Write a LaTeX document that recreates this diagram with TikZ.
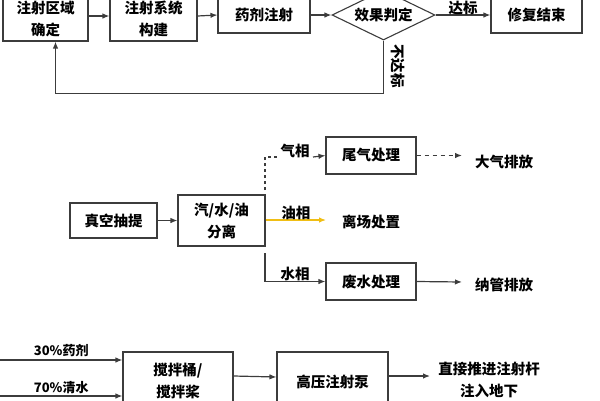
\documentclass[tikz,border=0pt]{standalone}
\usepackage{fontspec}
\setmainfont{Noto Sans CJK SC}
\usepackage{xcolor}
\usetikzlibrary{shapes.geometric, arrows.meta}
\definecolor{oilyellow}{RGB}{240,190,20}
\definecolor{linegray}{RGB}{60,60,60}
\tikzset{
        box/.style={draw=linegray, line width=1.1pt, align=center, inner sep=0pt},
        txt/.style={align=center, inner sep=1pt},
        flow/.style={-{Latex[length=7pt, width=5.5pt]}, line width=1.2pt, draw=linegray}
}

\begin{document}
\begin{tikzpicture}[x=1pt, y=-1pt, font=\fontsize{14.5}{22}\selectfont\bfseries]
        \useasboundingbox (0,0) rectangle (600,400);
        \node[box, minimum width=85pt, minimum height=44pt] (zone) at (45.5,19) {注射区域\\确定};
        \node[box, minimum width=87pt, minimum height=44pt] (build) at (153.5,19) {注射系统\\构建};
        \node[box, minimum width=92pt, minimum height=36pt] (inject) at (264,15) {药剂注射};
        \node[draw=linegray, line width=1.1pt, diamond, minimum width=103pt, minimum height=50pt, inner sep=0pt] (judge) at (383.5,15) {};
        \node[txt] at (judge) {效果判定};
        \node[box, minimum width=91pt, minimum height=36pt] (finish) at (536.5,15) {修复结束};
        \draw[flow] ([yshift=3pt]zone.east) -- ([yshift=3pt]build.west);
        \draw[flow] ([yshift=3pt]build.east) -- (inject.west);
        \draw[flow] (inject.east) -- (judge.west);
        \draw[flow] (judge.east) -- node[txt, above=-2pt] {达标} (finish.west);
        \draw[flow] (judge.south) -- ++(0,53) -| ([xshift=10pt]zone.south);
        \node[txt, rotate=-90] at (398,66) {不达标};

        \node[box, minimum width=87pt, minimum height=35pt] (vac) at (113.5,220.5) {真空抽提};
        \node[box, minimum width=87pt, minimum height=51pt] (sep) at (221.5,220.5) {汽/水/油\\分离};
        \draw[flow] (vac.east) -- (sep.west);
        \node[box, minimum width=90pt, minimum height=37pt] (tail) at (371,155.5) {尾气处理};
        \coordinate (g1) at (265,190);
        \coordinate (g2) at (277,157);
        \coordinate (g3) at (313,157);
        \draw[line width=1.2pt, draw=linegray, dash pattern=on 3pt off 3pt] (g1) |- (g2);
        \node[txt] at (295,151) {气相};
        \draw[flow] (g3) -- (tail.west);
        \coordinate (airend) at (462,155.5);
        \draw[flow, dash pattern=on 4pt off 4pt] (tail.east) -- (airend);
        \node[txt] at (504,162) {大气排放};
        \coordinate (oilend) at (326,220);
        \draw[-{Latex[length=7pt, width=5.5pt]}, line width=1.2pt, draw=oilyellow] (sep.east |- oilend) -- node[txt, above=-1pt] {油相} (oilend);
        \node[txt] at (371,222) {离场处置};
        \node[box, minimum width=90pt, minimum height=37pt] (waste) at (371,281.5) {废水处理};
        \coordinate (w1) at (265,253);
        \draw[flow] (w1) |- node[txt, pos=0.75, above=-1pt] {水相} (waste.west);
        \coordinate (pipeend) at (462,282);
        \draw[flow] (waste.east) -- (pipeend);
        \node[txt] at (504,285) {纳管排放};

        \node[box, minimum width=110pt, minimum height=58pt] (mix) at (178,381) {搅拌桶/\\搅拌桨};
        \node[box, minimum width=111pt, minimum height=60pt] (pump) at (332.5,382) {高压注射泵};
        \coordinate (in1) at (0,360);
        \coordinate (in2) at (0,396);
        \draw[flow] (in1) -- node[txt, above=2pt, font=\fontsize{13}{16}\selectfont\bfseries] {30\%药剂} (in1 -| mix.west);
        \draw[flow] (in2) -- node[txt, above=1pt, font=\fontsize{13}{16}\selectfont\bfseries] {70\%清水} (in2 -| mix.west);
        \draw[flow] ([yshift=5pt]mix.east) -- ([yshift=5pt]pump.west);
        \coordinate (downend) at (430,376);
        \draw[flow] ([yshift=6pt]pump.east) -- (downend);
        \node[txt] at (489,380) {直接推进注射杆\\注入地下};
\end{tikzpicture}
\end{document}
